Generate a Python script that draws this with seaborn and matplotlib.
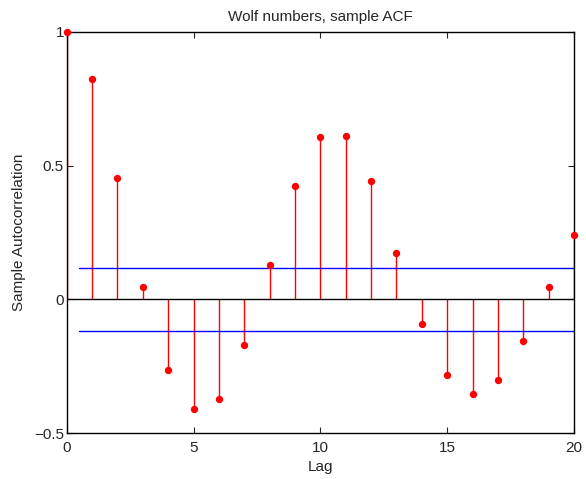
import numpy as np
import pandas as pd
import matplotlib
matplotlib.use("Agg")
import matplotlib.pyplot as plt
import seaborn as sns

# sample ACF of the Wolf sunspot numbers, lags 0..20
lags = list(range(21))
acf = [1.0, 0.823, 0.455, 0.046, -0.266, -0.411, -0.371, -0.170, 0.130, 0.425,
       0.607, 0.611, 0.443, 0.173, -0.094, -0.283, -0.353, -0.302, -0.156, 0.046,
       0.239]
bound = 0.119
bound_start = 0.5

df = pd.DataFrame({"Lag": lags, "ACF": acf})

sns.set_style("white")
plt.rcParams["font.family"] = ["Liberation Sans", "DejaVu Sans"]

fig = plt.figure(figsize=(5.86, 4.79), dpi=100)
ax = fig.add_axes([0.1138, 0.096, 0.9795 - 0.1138, 0.9332 - 0.096])

ax.vlines(df["Lag"], 0, df["ACF"], color="red", linewidth=1)
sns.scatterplot(data=df, x="Lag", y="ACF", color="red", s=28,
                edgecolor="red", linewidth=0, ax=ax, zorder=3, clip_on=False)
ax.axhline(0, color="black", linewidth=1)
ax.plot([bound_start, 20], [bound, bound], color="blue", linewidth=1)
ax.plot([bound_start, 20], [-bound, -bound], color="blue", linewidth=1)

ax.set_xlim(0, 20)
ax.set_ylim(-0.5, 1)
ax.set_xticks([0, 5, 10, 15, 20])
ax.set_yticks([-0.5, 0, 0.5, 1])
ax.set_yticklabels(["\u22120.5", "0", "0.5", "1"])
ax.tick_params(direction="in", length=4, width=0.8, top=True, right=True,
               bottom=True, left=True, labelsize=11, pad=2)
ax.tick_params(axis="x", pad=6)
for s in ax.spines.values():
    s.set_color("black")
    s.set_linewidth(1)

ax.set_xlabel("Lag", fontsize=11, labelpad=3)
ax.set_ylabel("Sample Autocorrelation", fontsize=11, labelpad=6)
ax.set_title("Wolf numbers, sample ACF", fontsize=11, pad=8)

fig.savefig("out.png", dpi=100)
